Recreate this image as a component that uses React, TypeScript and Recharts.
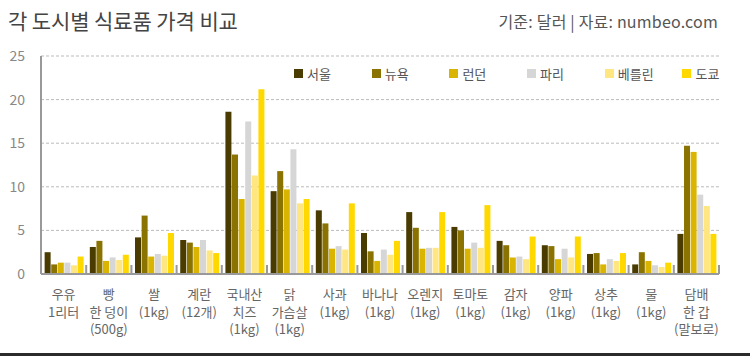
import React from 'react';
import { BarChart, Bar, XAxis, YAxis, CartesianGrid } from 'recharts';

const categories = [
  '우유\n1리터',
  '빵\n한 덩이\n(500g)',
  '쌀\n(1kg)',
  '계란\n(12개)',
  '국내산\n치즈\n(1kg)',
  '닭\n가슴살\n(1kg)',
  '사과\n(1kg)',
  '바나나\n(1kg)',
  '오렌지\n(1kg)',
  '토마토\n(1kg)',
  '감자\n(1kg)',
  '양파\n(1kg)',
  '상추\n(1kg)',
  '물\n(1kg)',
  '담배\n한 갑\n(말보로)',
];

const cities = ['서울', '뉴욕', '런던', '파리', '베를린', '도쿄'];

const seoul = [2.5, 3.1, 4.2, 3.9, 18.6, 9.5, 7.3, 4.7, 7.1, 5.4, 3.8, 3.3, 2.3, 1.1, 4.6];
const newYork = [1.1, 3.8, 6.7, 3.6, 13.7, 11.8, 5.8, 2.6, 5.3, 5.0, 3.3, 3.2, 2.4, 2.5, 14.7];
const london = [1.3, 1.5, 2.0, 3.1, 8.6, 9.7, 2.9, 1.5, 2.9, 2.9, 1.9, 1.7, 1.1, 1.5, 14.0];
const paris = [1.3, 1.9, 2.3, 3.9, 17.5, 14.3, 3.2, 2.8, 3.0, 3.6, 2.0, 2.9, 1.7, 1.0, 9.1];
const berlin = [1.0, 1.6, 2.1, 2.7, 11.3, 8.1, 2.8, 2.2, 3.0, 3.0, 1.7, 1.9, 1.5, 0.8, 7.8];
const tokyo = [2.0, 2.2, 4.7, 2.4, 21.2, 8.6, 8.1, 3.8, 7.1, 7.9, 4.3, 4.3, 2.4, 1.3, 4.6];

const yTicks = [0, 5, 10, 15, 20, 25];

const colors = ['#4a3c00', '#8a7300', '#d9b400', '#d6d6d6', '#ffe680', '#ffd800'];
const seriesValues = [seoul, newYork, london, paris, berlin, tokyo];

const data = categories.map((name, i) => {
  const row: Record<string, any> = { name };
  cities.forEach((c, k) => {
    row[c] = seriesValues[k][i];
  });
  return row;
});

const FONT = '"Noto Sans CJK KR", "Noto Sans", sans-serif';

const XTick = (props: any) => {
  const { x, y, payload } = props;
  const lines = String(payload.value).split('\n');
  const half = Number(payload && payload.offset) || 0;
  const bx = x + half;
  return (
    <g>
      {half > 0 && <line x1={bx} x2={bx} y1={y} y2={y - 9} stroke="#999" strokeWidth={2} />}
      <text x={x} y={y} textAnchor="middle" fill="#666" fontSize={13} fontFamily={FONT}>
        {lines.map((l, i) => (
          <tspan key={i} x={x} dy={i === 0 ? 25 : 17.5}>
            {l}
          </tspan>
        ))}
      </text>
    </g>
  );
};

const LegendBlock = () => (
  <div
    style={{
      position: 'absolute',
      top: 64,
      left: 294,
      display: 'flex',
      fontFamily: FONT,
      fontSize: 13,
      color: '#555',
    }}
  >
    {cities.map((c, k) => (
      <div key={c} style={{ width: 77.7, display: 'flex', alignItems: 'center' }}>
        <span
          style={{
            display: 'inline-block',
            width: 9,
            height: 9,
            background: colors[k],
            marginRight: 4,
          }}
        />
        <span>{c}</span>
      </div>
    ))}
  </div>
);

export default function App() {
  return (
    <div
      style={{
        position: 'absolute',
        left: 0,
        top: 0,
        width: 750,
        height: 356,
        background: '#fff',
        overflow: 'hidden',
      }}
    >
      <div
        style={{
          position: 'absolute',
          left: 8,
          top: 5,
          fontFamily: FONT,
          fontSize: 21,
          color: '#444',
          letterSpacing: -0.1,
          whiteSpace: 'nowrap',
        }}
      >
        각 도시별 식료품 가격 비교
      </div>
      <div
        style={{
          position: 'absolute',
          right: 32,
          top: 9,
          fontFamily: FONT,
          fontSize: 16,
          color: '#555',
          letterSpacing: 0.2,
          whiteSpace: 'nowrap',
        }}
      >
        기준: 달러 | 자료: numbeo.com
      </div>
      <div style={{ position: 'absolute', left: 0, top: 0 }}>
        <BarChart
          width={750}
          height={356}
          data={data}
          margin={{ top: 56, right: 31, bottom: 22, left: 0 }}
          barCategoryGap="8%"
          barGap={0.6}
        >
          <CartesianGrid vertical={false} stroke="#bbb" strokeDasharray="3 2" />
          <XAxis
            dataKey="name"
            interval={0}
            height={60}
            tick={<XTick />}
            tickLine={false}
            tickSize={0}
            tickMargin={0}
            axisLine={{ stroke: '#999', strokeWidth: 2 }}
          />
          <YAxis
            domain={[0, 25]}
            ticks={yTicks}
            width={41}
            tickLine={false}
            tickSize={0}
            tickMargin={16}
            axisLine={{ stroke: '#999', strokeWidth: 2 }}
            tick={{ fill: '#888', fontSize: 14, fontFamily: FONT }}
          />
          {cities.map((c, k) => (
            <Bar key={c} dataKey={c} fill={colors[k]} isAnimationActive={false} />
          ))}
        </BarChart>
      </div>
      <LegendBlock />
      <div
        style={{
          position: 'absolute',
          left: 0,
          bottom: 0,
          width: 750,
          height: 3,
          background: '#2b2b2b',
        }}
      />
    </div>
  );
}
